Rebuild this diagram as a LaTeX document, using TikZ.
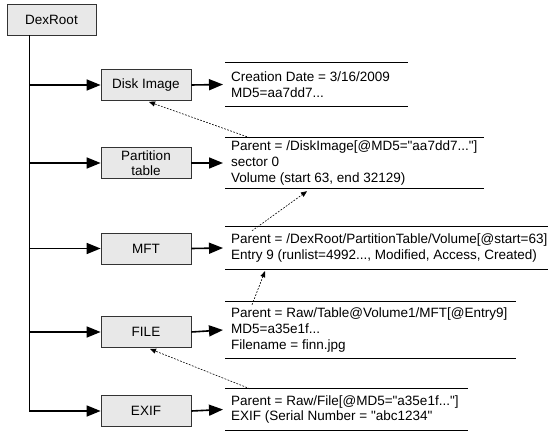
\documentclass[tikz,border=0pt]{standalone}
\usepackage{fontspec}
\setmainfont{Liberation Sans}
\newfontfamily\lsans{Liberation Sans}
\usetikzlibrary{arrows.meta}
\begin{document}
\begin{tikzpicture}[x=1pt,y=-1pt,
  box/.style={draw=black!80, fill=black!9, line width=0.8pt, minimum width=90pt, minimum height=31pt, inner sep=0pt, font=\lsans\fontsize{13.5}{15}\selectfont, align=center},
  rec/.style={anchor=west, inner xsep=6pt, inner ysep=0pt, align=left, font=\lsans\fontsize{13.5}{15.8}\selectfont},
  link/.style={line width=1.6pt, line join=miter, -{Triangle[length=14pt,width=11pt]}},
  dep/.style={line width=0.6pt, dash pattern=on 1.8pt off 1.4pt, -{Triangle[length=6pt,width=5pt]}},
  rule/.style={line width=0.8pt}]
\useasboundingbox (0,0) rectangle (549,433);
% left boxes
\node[box, minimum width=89pt] (root) at (51.5,19.5) {DexRoot};
\node[box] (disk) at (146,85) {Disk Image};
\node[box] (part) at (146,163) {Partition\\table};
\node[box] (mft) at (146,248.5) {MFT};
\node[box] (file) at (146,332) {FILE};
\node[box] (exif) at (146,411) {EXIF};
% records
\node[rec, minimum height=43pt] (r1) at (225,84.5) {Creation Date = 3/16/2009\\MD5=aa7dd7...};
\node[rec, minimum height=50pt] (r2) at (225,163) {Parent = /DiskImage[@MD5="aa7dd7..."]\\sector 0\\Volume (start 63, end 32129)};
\node[rec, minimum height=42pt] (r3) at (225,248) {Parent = /DexRoot/PartitionTable/Volume[@start=63]\\Entry 9 (runlist=4992..., Modified, Access, Created)};
\node[rec, minimum height=56pt] (r4) at (225,330) {Parent = Raw/Table@Volume1/MFT[@Entry9]\\MD5=a35e1f...\\Filename = finn.jpg};
\node[rec, minimum height=41pt] (r5) at (225,409.5) {Parent = Raw/File[@MD5="a35e1f..."]\\EXIF (Serial Number = "abc1234"};
% record rules
\draw[rule] (r1.north west) -- ++(183,0);
\draw[rule] (r1.south west) -- ++(183,0);
\draw[rule] (r2.north west) -- ++(259,0);
\draw[rule] (r2.south west) -- ++(259,0);
\draw[rule] (r3.north west) -- ++(323,0);
\draw[rule] (r3.south west) -- ++(323,0);
\draw[rule] (r4.north west) -- ++(291,0);
\draw[rule] (r4.south west) -- ++(291,0);
\draw[rule] (r5.north west) -- ++(243,0);
\draw[rule] (r5.south west) -- ++(243,0);
% trunk and branches
\coordinate (tx) at (29.5,0);
\draw[link] (tx |- root.south) -- (tx |- exif.west) -- (exif.west);
\draw[link] (tx |- disk.west) -- (disk.west);
\draw[link] (tx |- part.west) -- (part.west);
\draw[link] (tx |- mft.west) -- (mft.west);
\draw[link] (tx |- file.west) -- (file.west);
% to records
\draw[link] (disk.east) -- ([xshift=-2pt]r1.west);
\draw[link] (part.east) -- ([xshift=-2pt]r2.west);
\draw[link] (mft.east) -- ([xshift=-2pt]r3.west);
\draw[link] (file.east) -- ([xshift=-2pt]r4.west);
\draw[link] (exif.east) -- ([xshift=-2pt]r5.west);
% parent references
\draw[dep] ([xshift=25pt]r2.north west) -- ([xshift=3pt,yshift=-1pt]disk.south);
\draw[dep] ([xshift=27pt,yshift=-4pt]r3.north west) -- ([xshift=82pt,yshift=-3pt]r2.south west);
\draw[dep] ([xshift=27pt,yshift=-3pt]r4.north west) -- ([xshift=40pt,yshift=-2pt]r3.south west);
\draw[dep] ([xshift=25pt]r5.north west) -- ([xshift=4pt,yshift=-1pt]file.south);
\end{tikzpicture}
\end{document}
